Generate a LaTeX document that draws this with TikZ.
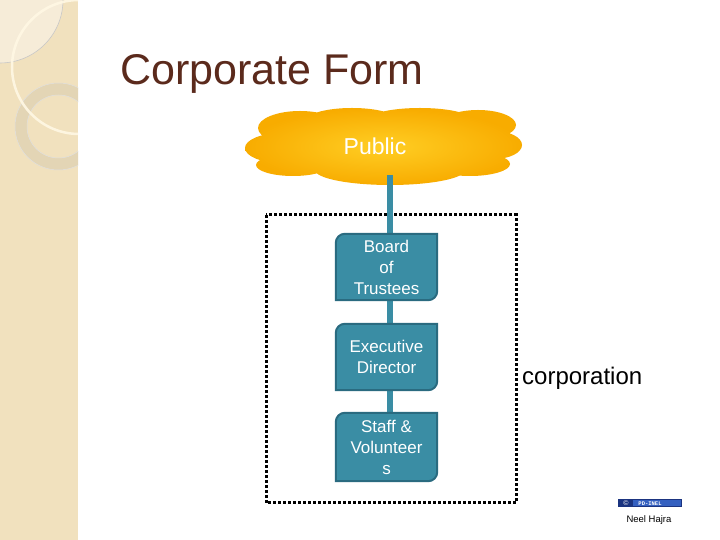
\documentclass[tikz,border=0pt]{standalone}
\usepackage{fontspec}
\setmainfont{Liberation Sans}
\newfontfamily\monof{Liberation Mono}
\definecolor{panel}{HTML}{F1E1BE}
\definecolor{panellight}{HTML}{F6ECD8}
\definecolor{ringc}{HTML}{E3D5B5}
\definecolor{arcc}{HTML}{FFF8E4}
\definecolor{titlec}{HTML}{5B2A1C}
\definecolor{tealf}{HTML}{3A8DA4}
\definecolor{teald}{HTML}{2A6B80}
\definecolor{cloudin}{HTML}{FFCE24}
\definecolor{cloudout}{HTML}{F8AC00}
\definecolor{badged}{HTML}{1B3480}
\definecolor{badgel}{HTML}{3460C0}
\tikzset{
  orgbox/.style={minimum width=101pt, minimum height=66pt, inner sep=2pt, text=white, align=center, font=\fontsize{17}{21}\selectfont},
  boxline/.style={draw=teald, line width=2pt, fill=tealf},
  conn/.style={draw=tealf, line width=6pt},
  dotbox/.style={draw=black, line width=3pt, dash pattern=on 3pt off 2pt}
}
\newcommand\snipbox[1]{%
  \path[boxline] ([xshift=9pt]#1.north west) -- (#1.north east) -- ([yshift=9pt]#1.south east)
    arc[start angle=0, end angle=-90, radius=9pt] -- (#1.south west) -- ([yshift=-9pt]#1.north west)
    arc[start angle=180, end angle=90, radius=9pt] -- cycle;}
\begin{document}
\begin{tikzpicture}[x=1pt,y=1pt]
\useasboundingbox (0,0) rectangle (720,540);
\fill[white] (0,0) rectangle (720,540);
% left panel
\fill[panel] (0,0) rectangle (78,540);
\begin{scope}
  \clip (0,0) rectangle (78,540);
  \fill[panellight] (0,540) -- (63,540) arc[start angle=0, end angle=-90, radius=63] -- cycle;
  \draw[black!22, line width=0.6pt] (63,540) arc[start angle=0, end angle=-90, radius=63];
  \fill[ringc, even odd rule] (58.5,413.5) circle[radius=43.5] (58.5,413.5) circle[radius=31.5];
  \draw[black!12, line width=0.5pt] (58.5,413.5) circle[radius=43.5] (58.5,413.5) circle[radius=31.5];
  \draw[arcc, line width=2.5pt, opacity=0.9] (79,473) circle[radius=67];
\end{scope}
% title
\node[anchor=base west, text=titlec, font=\fontsize{43}{46}\selectfont, inner sep=0pt] (title) at (120,455) {Corporate Form};
% cloud
\shade[inner color=cloudin, outer color=cloudout]
  (390,394) ellipse[x radius=120, y radius=30]
  (282,392) ellipse[x radius=37, y radius=15]
  (300,412) ellipse[x radius=42, y radius=17]
  (352,420) ellipse[x radius=45, y radius=12]
  (420,421) ellipse[x radius=50, y radius=11]
  (478,415) ellipse[x radius=38, y radius=15]
  (494,395) ellipse[x radius=28, y radius=14]
  (390,370) ellipse[x radius=75, y radius=15]
  (293,375) ellipse[x radius=37, y radius=11]
  (470,376) ellipse[x radius=40, y radius=12];
\node[text=white, font=\fontsize{23}{26}\selectfont] (pub) at (375,394) {Public};
% dotted corporation box
\draw[dotbox] (266,325) rectangle (516,37);
\node[anchor=west, font=\fontsize{24}{26}\selectfont, inner sep=0pt] (corp) at (522,162) {corporation};
% boxes
\node[orgbox] (board) at (386.5,273) {Board\\of\\Trustees};
\node[orgbox] (exec) at (386.5,183) {Executive\\Director};
\node[orgbox, minimum height=68pt] (staff) at (386.5,93) {Staff \&\\Volunteer\\s};
\coordinate (cbot) at (390,365);
% connectors
\draw[conn] (cbot) -- (board.north -| cbot);
\draw[conn] (board.south -| cbot) -- (exec.north -| cbot);
\draw[conn] (exec.south -| cbot) -- (staff.north -| cbot);
\snipbox{board}\snipbox{exec}\snipbox{staff}
\node[orgbox] at (board) {Board\\of\\Trustees};
\node[orgbox] at (exec) {Executive\\Director};
\node[orgbox, minimum height=68pt] at (staff) {Staff \&\\Volunteer\\s};
% badge
\fill[badged] (618,32.5) rectangle (682,41);
\fill[badgel] (633,33.5) rectangle (681,40);
\node[text=white, font=\fontsize{7}{7}\selectfont, inner sep=0pt] (cc) at (626,36.8) {©};
\node[text=white, font=\monof\bfseries\fontsize{5.5}{6}\selectfont, inner sep=0pt] (pd) at (650,36.8) {PD-INEL};
\node[font=\fontsize{9.5}{10}\selectfont, inner sep=0pt] (auth) at (649,20) {Neel Hajra};
\end{tikzpicture}
\end{document}
